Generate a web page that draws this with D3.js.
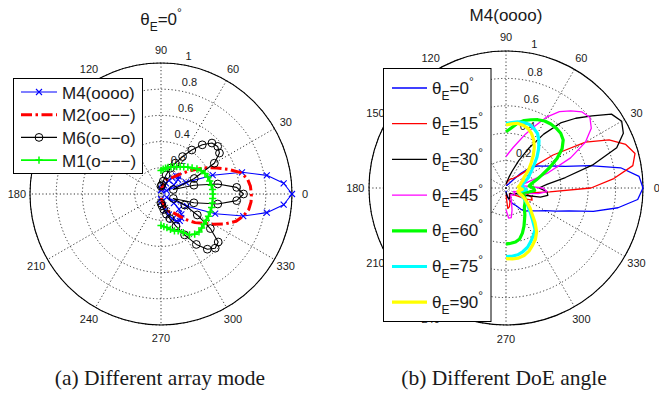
<!DOCTYPE html>
<html>
<head>
<meta charset="utf-8">
<script src="https://cdn.jsdelivr.net/npm/d3@7"></script>
<style>
body { margin: 0; background: #fff; }
svg { display: block; }
text { font-family: "Liberation Sans", Arial, sans-serif; fill: #1a1a1a; }
</style>
</head>
<body>
<svg width="659" height="396"></svg>
<script>
// ticks shared by both polar plots
const angleTicks = [0, 30, 60, 90, 120, 150, 180, 210, 240, 270, 300, 330];
const spokeAngles = [0, 30, 60, 90, 120, 150];
const radialTicks = [0.2, 0.4, 0.6, 0.8, 1];

// direction of arrival grid, degrees (-90 .. 90)
const doaAngles = [-90,-85,-80,-75,-70,-65,-60,-55,-50,-45,-40,-35,-30,-25,-20,-15,-10,-5,0,5,10,15,20,25,30,35,40,45,50,55,60,65,70,75,80,85,90];

// (a) different array mode, theta_E = 0
const modeNames = ['M4(oooo)', 'M2(oo\u2212\u2212)', 'M6(o\u2212\u2212o)', 'M1(o\u2212\u2212\u2212)'];
const m4 = [0.04,0.06,0.09,0.13,0.17,0.21,0.24,0.25,0.24,0.22,0.18,0.12,0.05,0.22,0.44,0.65,0.82,0.94,1.00,0.94,0.82,0.64,0.42,0.21,0.05,0.12,0.17,0.19,0.18,0.15,0.12,0.09,0.07,0.05,0.04,0.03,0.03];
const m2 = [0.03,0.04,0.06,0.09,0.12,0.15,0.155,0.18,0.22,0.28,0.34,0.39,0.46,0.54,0.61,0.65,0.68,0.69,0.69,0.685,0.67,0.63,0.55,0.47,0.40,0.33,0.27,0.22,0.18,0.155,0.14,0.13,0.11,0.08,0.06,0.04,0.03];
const m6 = [0.07,0.09,0.12,0.16,0.20,0.27,0.36,0.47,0.55,0.585,0.57,0.46,0.32,0.20,0.10,0.26,0.44,0.58,0.63,0.58,0.44,0.26,0.10,0.28,0.47,0.545,0.565,0.55,0.49,0.41,0.33,0.26,0.21,0.15,0.10,0.07,0.06];
const m1 = [0.24,0.25,0.26,0.28,0.30,0.31,0.34,0.38,0.40,0.41,0.405,0.40,0.40,0.40,0.40,0.40,0.398,0.396,0.395,0.395,0.39,0.385,0.38,0.37,0.355,0.335,0.31,0.29,0.27,0.255,0.24,0.23,0.22,0.21,0.20,0.19,0.18];

// (b) M4(oooo), different DoE angle
const doeAngles = [0, 15, 30, 45, 60, 75, 90];
const e0  = [0.02,0.04,0.06,0.09,0.11,0.13,0.15,0.19,0.22,0.235,0.26,0.29,0.33,0.40,0.49,0.66,0.83,0.965,1.00,0.975,0.85,0.63,0.46,0.38,0.32,0.28,0.235,0.15,0.07,0.04,0.03,0.03,0.02,0.02,0.02,0.02,0.02];
const e15 = [0.05,0.15,0.14,0.11,0.08,0.06,0.05,0.05,0.06,0.07,0.08,0.10,0.16,0.21,0.20,0.15,0.20,0.32,0.62,0.79,0.94,0.975,0.93,0.83,0.67,0.42,0.20,0.12,0.10,0.08,0.08,0.07,0.06,0.05,0.04,0.03,0.03];
const e30 = [0.03,0.05,0.07,0.08,0.08,0.07,0.06,0.05,0.05,0.06,0.07,0.08,0.08,0.10,0.16,0.26,0.31,0.30,0.24,0.30,0.44,0.66,0.86,0.945,0.975,0.94,0.82,0.72,0.62,0.48,0.34,0.22,0.13,0.08,0.05,0.04,0.03];
const e45 = [0.16,0.22,0.22,0.17,0.12,0.09,0.07,0.06,0.06,0.07,0.08,0.08,0.07,0.06,0.08,0.15,0.24,0.30,0.27,0.15,0.10,0.16,0.33,0.52,0.67,0.76,0.80,0.785,0.735,0.68,0.60,0.50,0.42,0.35,0.30,0.26,0.23];
const e60 = [0.41,0.405,0.40,0.385,0.35,0.31,0.27,0.24,0.21,0.19,0.18,0.17,0.16,0.15,0.13,0.12,0.17,0.21,0.20,0.17,0.19,0.23,0.28,0.35,0.43,0.50,0.545,0.565,0.57,0.57,0.565,0.55,0.53,0.51,0.48,0.44,0.41];
const e75 = [0.50,0.50,0.495,0.48,0.46,0.43,0.40,0.37,0.30,0.25,0.21,0.18,0.15,0.12,0.10,0.10,0.12,0.15,0.13,0.12,0.12,0.13,0.15,0.18,0.20,0.23,0.27,0.32,0.37,0.42,0.46,0.48,0.495,0.495,0.49,0.48,0.47];
const e90 = [0.515,0.52,0.52,0.51,0.49,0.46,0.43,0.39,0.33,0.27,0.23,0.19,0.16,0.13,0.10,0.09,0.10,0.12,0.10,0.09,0.10,0.11,0.12,0.14,0.15,0.18,0.22,0.26,0.31,0.36,0.405,0.44,0.465,0.475,0.48,0.47,0.46];

const svg = d3.select('svg');
const rad = deg => (90 - deg) * Math.PI / 180;   // math angle -> d3 radial angle

function polarAxes(cx, cy, R) {
    const g = svg.append('g').attr('transform', `translate(${cx},${cy})`);
    const r = d3.scaleLinear().domain([0, 1]).range([0, R]);
    g.append('circle').attr('r', r(1)).attr('fill', 'none').attr('stroke', '#000').attr('stroke-width', 1.1);
    g.selectAll('.ring').data(radialTicks).join('circle')
        .attr('r', d => r(d)).attr('fill', 'none')
        .attr('stroke', '#000').attr('stroke-width', 0.8).attr('stroke-dasharray', '1.2,2.3');
    g.selectAll('.spoke').data(spokeAngles).join('line')
        .attr('x1', d => d3.pointRadial(rad(d), r(1))[0]).attr('y1', d => d3.pointRadial(rad(d), r(1))[1])
        .attr('x2', d => d3.pointRadial(rad(d + 180), r(1))[0]).attr('y2', d => d3.pointRadial(rad(d + 180), r(1))[1])
        .attr('stroke', '#000').attr('stroke-width', 0.8).attr('stroke-dasharray', '1.2,2.3');
    g.selectAll('.alab').data(angleTicks).join('text')
        .attr('x', d => d3.pointRadial(rad(d), r(1.1))[0])
        .attr('y', d => d3.pointRadial(rad(d), r(1.1))[1])
        .attr('text-anchor', 'middle').attr('dominant-baseline', 'central')
        .attr('font-size', 11).text(d => d);
    g.selectAll('.rlab').data(radialTicks).join('text')
        .attr('x', d => d3.pointRadial(rad(82), r(d + 0.01))[0] + 6)
        .attr('y', d => d3.pointRadial(rad(82), r(d + 0.01))[1] - 2.5)
        .attr('font-size', 11).text(d => d);
    return {g, r};
}

function trace(p, vals, color, width, dash) {
    const pts = doaAngles.map((a, i) => ({a, v: vals[i]}));
    const line = d3.lineRadial().angle(d => rad(d.a)).radius(d => p.r(d.v));
    p.g.append('path').datum(pts).attr('d', line)
        .attr('fill', 'none').attr('stroke', color).attr('stroke-width', width)
        .attr('stroke-linejoin', 'round').attr('stroke-dasharray', dash || null);
    return pts;
}

function marker(sel, type, color) {
    if (type === 'x') {
        sel.append('path').attr('d', 'M-3,-3L3,3M-3,3L3,-3').attr('stroke', color).attr('stroke-width', 1.1).attr('fill', 'none');
    } else if (type === 'o') {
        sel.append('circle').attr('r', 3.9).attr('stroke', color).attr('stroke-width', 1).attr('fill', 'none');
    } else if (type === '+') {
        sel.append('path').attr('d', 'M-3.6,0H3.6M0,-3.6V3.6').attr('stroke', color).attr('stroke-width', 1.5).attr('fill', 'none');
    }
}

function markers(p, pts, type, color) {
    p.g.append('g').selectAll('g').data(pts).join('g')
        .attr('transform', d => `translate(${d3.pointRadial(rad(d.a), p.r(d.v))})`)
        .each(function () { marker(d3.select(this), type, color); });
}

function thetaText(sel, v, sub) {
    sel.append('tspan').text('\u03b8');
    sel.append('tspan').attr('font-size', sub).attr('dy', 6).text('E');
    sel.append('tspan').attr('dy', -6).text('=' + v);
    sel.append('tspan').attr('font-size', sub).attr('dy', -8).text('\u00b0');
}

// ---------- (a) ----------
const pa = polarAxes(161, 194, 131);
const modeStyles = [
    {vals: m4, color: '#0000ff', w: 1.1, mk: 'x'},
    {vals: m2, color: '#ff0000', w: 3, dash: '11,3.5,2.5,3.5'},
    {vals: m6, color: '#000000', w: 1.1, mk: 'o'},
    {vals: m1, color: '#00ff00', w: 1.8, mk: '+'}
];
modeStyles.forEach(s => {
    const pts = trace(pa, s.vals, s.color, s.w, s.dash);
    if (s.mk) markers(pa, pts, s.mk, s.color);
});

svg.append('text').attr('x', 161).attr('y', 25).attr('text-anchor', 'middle').attr('font-size', 17)
    .call(t => thetaText(t, 0, 12));

const legA = svg.append('g');
legA.append('rect').attr('x', 13.5).attr('y', 78.5).attr('width', 129).attr('height', 95)
    .attr('fill', '#fff').attr('stroke', '#000').attr('stroke-width', 1);
modeNames.forEach((name, i) => {
    const y = 92 + i * 22.7, s = modeStyles[i];
    legA.append('line').attr('x1', 21).attr('x2', 57).attr('y1', y).attr('y2', y)
        .attr('stroke', s.color).attr('stroke-width', s.w).attr('stroke-dasharray', s.dash || null);
    if (s.mk) marker(legA.append('g').attr('transform', `translate(39,${y})`), s.mk, s.color);
    legA.append('text').attr('x', 62).attr('y', y + 6.5).attr('font-size', 17).text(name);
});

// ---------- (b) ----------
const pb = polarAxes(506, 188, 137);
const doeStyles = [
    {vals: e0,  color: '#0000ff', w: 1.3},
    {vals: e15, color: '#ff0000', w: 1.3},
    {vals: e30, color: '#000000', w: 1.3},
    {vals: e45, color: '#ff00ff', w: 1.3},
    {vals: e60, color: '#00ff00', w: 3.2},
    {vals: e75, color: '#00ffff', w: 3.2},
    {vals: e90, color: '#ffff00', w: 3.2}
];
doeStyles.forEach(s => trace(pb, s.vals, s.color, s.w));

svg.append('text').attr('x', 506).attr('y', 20.5).attr('text-anchor', 'middle').attr('font-size', 17).text('M4(oooo)');

const legB = svg.append('g');
legB.append('rect').attr('x', 383.5).attr('y', 68.5).attr('width', 107.5).attr('height', 253)
    .attr('fill', '#fff').attr('stroke', '#000').attr('stroke-width', 1);
doeAngles.forEach((a, i) => {
    const y = 88 + i * 35.7, s = doeStyles[i];
    legB.append('line').attr('x1', 392).attr('x2', 427).attr('y1', y).attr('y2', y)
        .attr('stroke', s.color).attr('stroke-width', s.w);
    legB.append('text').attr('x', 432).attr('y', y + 5.5).attr('font-size', 17)
        .call(t => thetaText(t, a, 12));
});

// captions
const captions = [{x: 160, t: '(a) Different array mode'}, {x: 504, t: '(b) Different DoE angle'}];
svg.selectAll('.cap').data(captions).join('text')
    .attr('x', d => d.x).attr('y', 385).attr('text-anchor', 'middle')
    .style('font-family', '"Liberation Serif", "Times New Roman", serif')
    .attr('font-size', 21.5).text(d => d.t);
</script>
</body>
</html>
